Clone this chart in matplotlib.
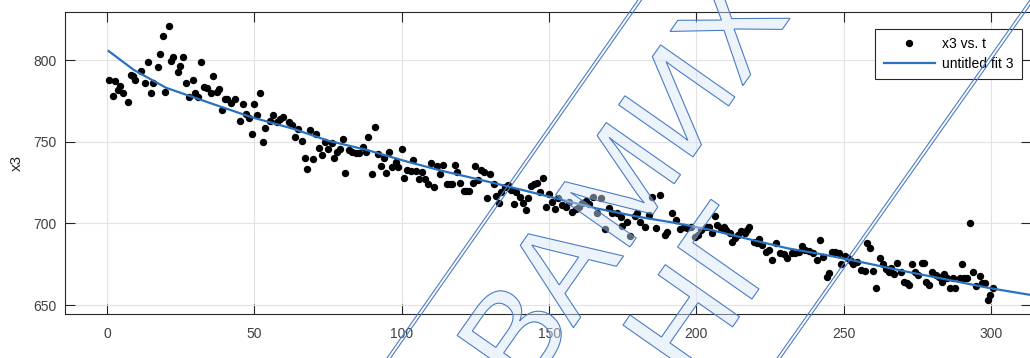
import matplotlib
matplotlib.use('Agg')
import matplotlib.pyplot as plt
from matplotlib import patheffects as pe
from matplotlib.lines import Line2D

plt.rcParams['font.family'] = ['Liberation Sans', 'DejaVu Sans']

t = [0.8, 2, 2.6, 3.8, 4.4, 5.5, 7, 8, 8.7, 9.5, 11.4, 12.7, 14, 14.8, 15.7, 17.1, 18, 18.8, 19.7, 21,
     21.7, 22.5, 24, 24.9, 25.8, 26.7, 27.9, 29, 29.9, 31, 31.9, 33, 33.8, 35.3, 35.9, 37.3, 38.1, 39, 40, 40.7,
     42.2, 43.3, 45, 46, 47, 48.1, 49, 49.8, 50.9, 52, 52.9, 53.7, 55.2, 56.3, 57.7, 58.8, 59.7, 61.6, 62.6, 63.7,
     64.8, 66, 67, 67.9, 68.8, 69.9, 71, 72, 73, 74.1, 74.9, 76.4, 77, 78, 79.2, 80, 80.9, 82, 83.2, 84.3,
     85.4, 86.9, 87.7, 88.6, 90, 90.9, 91.9, 93, 93.9, 94.8, 95.6, 96.7, 97.9, 98.8, 100.1, 100.9, 101.8, 103, 103.9, 104.7,
     105.8, 106.9, 108, 108.8, 110, 110.9, 112, 112.9, 113.9, 115.4, 116.2, 117.1, 118, 118.8, 119.7, 121.1, 121.9, 122.8, 124.1, 125,
     125.9, 127, 127.8, 129, 129.9, 131.2, 132, 133, 133.8, 135, 136.1, 137.1, 138, 138.8, 140, 141.1, 142, 142.9, 143.7, 144.8,
     146, 146.8, 148, 149, 149.9, 151, 151.9, 153, 154.4, 155.6, 156.7, 157.8, 159, 160.1, 161.2, 162.4, 163.5, 165, 166.3, 167.7,
     169.1, 170.3, 171.4, 172.9, 174.5, 174.8, 176.3, 177.6, 179, 179.9, 181, 182.4, 183.8, 184.8, 186.4, 187.8, 189.2, 190.1, 191.8, 193.1,
     194.3, 195.7, 196.9, 198.3, 199.5, 200.6, 201.7, 203.1, 204.2, 205.4, 206.3, 207.1, 208.2, 209.3, 210.1, 211.3, 212.2, 213.1, 214.2, 215.3,
     216.5, 217.2, 218, 219.5, 220.6, 221.4, 222.3, 223.5, 224.6, 225.7, 227.1, 228.2, 229.7, 230.8, 232.5, 233.6, 234.8, 235.9, 237, 238.2,
     239.6, 240.8, 241.9, 243, 244.2, 245, 246.1, 247.2, 248.4, 249.2, 250.3, 251.5, 252.6, 253.2, 254.6, 255.9, 257.1, 258, 258.9, 260,
     261.1, 262.3, 263.4, 264.5, 265.3, 266.1, 267, 268.1, 269.3, 270.4, 271.5, 272.3, 273, 274.1, 275.3, 276.4, 277.2, 278, 279.1, 280,
     281.2, 282.3, 283.2, 284, 285.1, 286.2, 287, 287.9, 289.3, 290, 290.8, 291.9, 293, 294, 295, 296.1, 297, 297.9, 299, 299.8,
     300.6]
x3 = [788, 778, 787, 781.6, 784, 780, 774, 791, 790, 788, 793, 786, 799, 780, 786, 795.5, 803.7, 814.7, 780.6, 821,
      799.6, 801.6, 792.5, 796.5, 801.8, 786, 777.5, 788, 780, 777.5, 799, 783.7, 783, 780, 790, 780.6, 782, 769.4, 776, 776,
      773.5, 776, 762.7, 772.9, 767, 764.3, 754.7, 772.9, 766.3, 780, 750, 758.6, 762.7, 766.3, 762.2, 763.7, 765.3, 762.2, 760.2, 753,
      757.6, 750.6, 739.8, 733, 757, 739.2, 755, 746, 741.8, 750, 745.3, 749, 739.8, 743.9, 745.3, 751.6, 731, 744.9, 743.9, 742.8,
      742.8, 746.9, 743.9, 753, 730.2, 758.8, 742.4, 735, 739.8, 731, 743.9, 734.7, 737.7, 734.3, 745.3, 727.5, 732.6, 732.2, 738.8, 732.2,
      726.9, 731.6, 726.9, 724, 736.7, 722, 735, 730.2, 735.7, 724, 724, 724, 736, 731.6, 724.4, 719.9, 719.9, 719.9, 724.9, 735,
      726.5, 732.6, 731.6, 715.3, 730.2, 724, 716.7, 712.2, 719.3, 722, 723.4, 720.4, 711.8, 719.3, 716.3, 712.6, 708.1, 715.3, 722.8, 724,
      724.9, 719.3, 727.5, 709.8, 717.9, 713.2, 708.5, 715.3, 711.2, 710.2, 713.3, 707.2, 708.6, 710.2, 712.7, 713.9, 711.7, 716.4, 706.1, 715.3,
      696.4, 709.6, 706.6, 706.1, 703.7, 698.4, 701, 692.3, 704.5, 706.1, 701, 698, 705.1, 716, 697, 717.4, 692.9, 694.9, 706.1, 702,
      696.3, 697.9, 696.9, 697.9, 691.4, 692.8, 695.9, 697.9, 697.9, 693.8, 704.5, 699, 696.9, 697.9, 695.9, 693.8, 688.7, 690.8, 692.8, 695.5,
      693.8, 695.9, 697.9, 688.7, 687.7, 690.2, 686.7, 682.6, 683.6, 677.5, 687.7, 681.6, 681.2, 678.5, 681.6, 682.1, 682.7, 686.1, 683.7, 683.3,
      681.6, 677.6, 689.8, 679.2, 666.9, 669.8, 682.7, 682.7, 681.6, 675.1, 680, 678.6, 677.2, 675.1, 676.6, 671.4, 671, 687.8, 684.7, 671,
      660.2, 678.6, 675.1, 671.9, 670.4, 672.5, 669, 676, 670.4, 664.3, 663.3, 662.3, 675.1, 670.4, 668.4, 675.5, 675.9, 664.3, 662.3, 670.4,
      668.4, 667, 664.3, 669, 666.3, 660.2, 666.3, 660.2, 666.3, 675.1, 666.3, 666.3, 700, 670.4, 661.7, 667.8, 663.3, 663.3, 653.1, 656.2,
      660.2]

# fitted curve
t_fit = [0.5, 9, 20, 36, 49, 63, 75, 88, 102, 114, 127, 141, 153, 166, 180, 192, 205, 219, 231, 244, 258, 270, 283, 300, 314]
x3_fit = [805.5, 794, 783, 773, 765, 758, 750.6, 745, 737.7, 732, 726.5, 720.4, 715, 709.2, 704.1, 700.5, 695.9, 689.8,
          684.7, 680.6, 675.5, 670.9, 666.3, 660.2, 656]

xticks = [0, 50, 100, 150, 200, 250, 300]
yticks = [650, 700, 750, 800]

fig = plt.figure(figsize=(10.3, 3.58), dpi=100)
ax = fig.add_axes([0.0631, 0.1229, 0.938, 0.8436])

ax.plot(t, x3, 'o', color='k', markersize=4.3, label='x3 vs. t', zorder=3)
ax.plot(t_fit, x3_fit, '-', color='#2a72c0', linewidth=1.6, label='untitled fit 3', zorder=4)

ax.set_xlim(-14.3, 313.6)
ax.set_ylim(644.5, 829.4)
ax.set_xticks(xticks)
ax.set_yticks(yticks)
ax.grid(True, color='#e2e2e2', linewidth=0.8)
ax.set_axisbelow(True)
for s in ax.spines.values():
    s.set_color('#262626')
    s.set_linewidth(0.8)
ax.tick_params(direction='in', length=7, width=0.8, color='#262626', top=True, right=True,
               labelsize=10, labelcolor='#404040')
ax.tick_params(axis='x', pad=9)
ax.tick_params(axis='y', pad=6)
ax.set_ylabel('x3', fontsize=11, color='#262626', labelpad=7)

leg = ax.legend(loc='upper right', bbox_to_anchor=(0.9922, 0.919), bbox_transform=fig.transFigure,
                borderaxespad=0, fancybox=False, framealpha=1, edgecolor='#262626', fontsize=10,
                handlelength=3.7, handletextpad=0.5, labelspacing=0.4, borderpad=0.6)
leg.get_frame().set_linewidth(0.8)

# diagonal watermark overlay
wm_blue = '#4a7cc4'
for x0, x1 in [(0.3757, 0.6194), (0.7544, 1.0)]:
    for off in (0.0, 0.0035):
        fig.add_artist(Line2D([x0 + off, x1 + off], [0, 1], transform=fig.transFigure,
                              color=wm_blue, linewidth=0.8, zorder=9))
eff = [pe.PathPatchEffect(edgecolor=wm_blue, facecolor=(0.85, 0.9, 0.97, 0.45), linewidth=0.8)]
w1 = fig.text(0.612, 0.48, 'ВАМИХ', fontsize=95, rotation=55, ha='center', va='center',
              rotation_mode='anchor', color='none', zorder=10)
w1.set_path_effects(eff)
w2 = fig.text(0.69, 0.168, 'НГ', fontsize=95, rotation=55, ha='center', va='center',
              rotation_mode='anchor', color='none', zorder=10)
w2.set_path_effects(eff)

fig.savefig('out.png', dpi=100)
